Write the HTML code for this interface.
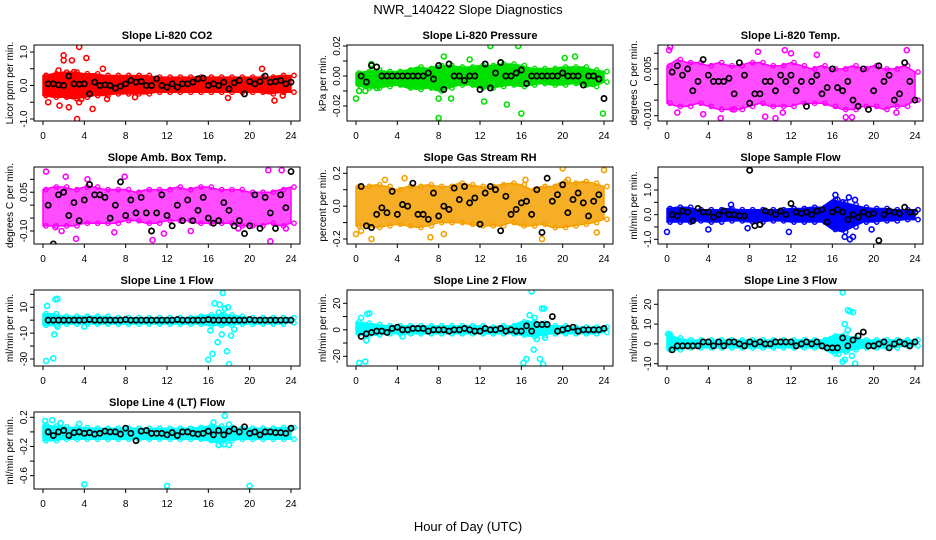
<!DOCTYPE html>
<html><head><meta charset="utf-8"><style>
body{margin:0;background:#fff;}
svg{display:block;font-family:"Liberation Sans",sans-serif;}
</style></head><body>
<svg id="c" width="936" height="540" viewBox="0 0 936 540">
<text x="468" y="14" text-anchor="middle" font-size="13">NWR_140422  Slope Diagnostics</text>
<text x="468" y="531" text-anchor="middle" font-size="13">Hour of Day (UTC)</text>
</svg>
<script>
// ---- data ----
const bandH=[0,1,2,3,4,5,6,7,8,9,10,11,12,13,14,15,16,17,18,19,20,21,22,23,24];
const blackH=[0.5,1,1.5,2,2.5,3,3.5,4,4.5,5,5.5,6,6.5,7,7.5,8,8.5,9,9.5,10,10.5,11,11.5,12,12.5,13,13.5,14,14.5,15,15.5,16,16.5,17,17.5,18,18.5,19,19.5,20,20.5,21,21.5,22,22.5,23,23.5,24];

const co2Lo=[-0.3,-0.35,-0.35,-0.4,-0.35,-0.3,-0.3,-0.25,-0.25,-0.25,-0.25,-0.2,-0.2,-0.2,-0.2,-0.2,-0.2,-0.2,-0.2,-0.2,-0.2,-0.2,-0.25,-0.2,-0.2];
const co2Hi=[0.3,0.35,0.4,0.4,0.35,0.35,0.3,0.3,0.3,0.3,0.3,0.25,0.25,0.25,0.25,0.25,0.25,0.25,0.25,0.25,0.25,0.25,0.25,0.3,0.3];
const co2OutH=[0.5,1.6,2,2,2.5,2.8,3.3,3.5,3.5,3.7,4.2,4.8,5.8,6.2,8.9,17.9,21.2,22.4,23.2,1.5,3];
const co2OutV=[-0.5,-0.6,0.9,0.75,-0.65,0.75,-1.0,1.15,-0.5,-0.4,0.82,-0.7,0.5,-0.4,-0.35,-0.37,0.5,-0.45,-0.3,0.45,0.4];
const co2Black=[0.05,0.05,0.02,0.0,0.28,0.05,0.04,0.05,-0.25,0.1,0.0,0.02,0.0,-0.08,-0.02,0.05,0.15,0.1,0.12,0.0,0.0,0.2,0.0,-0.05,0.05,-0.05,0.05,0.05,0.1,0.2,0.22,0.0,0.05,0.0,0.1,-0.1,0.08,0.15,-0.25,0.12,0.05,0.12,0.28,0.1,0.12,0.15,0.05,0.1];

const presLo=[-0.006,-0.008,-0.008,-0.007,-0.006,-0.008,-0.009,-0.008,-0.01,-0.008,-0.006,-0.006,-0.008,-0.008,-0.007,-0.006,-0.007,-0.006,-0.005,-0.006,-0.006,-0.005,-0.006,-0.007,-0.004];
const presHi=[0.002,0.003,0.004,0.003,0.003,0.004,0.006,0.005,0.007,0.007,0.006,0.006,0.007,0.007,0.008,0.008,0.007,0.005,0.005,0.005,0.006,0.006,0.006,0.004,0.003];
const presOutH=[0,0.3,0.9,1.5,2,8,8,8.5,9.2,13,15.7,16,11,20.2,21.2,23.9,14.6,12.4];
const presOutV=[-0.015,-0.01,-0.01,0.008,-0.008,-0.028,-0.015,0.013,-0.015,0.02,0.02,-0.025,0.011,0.012,0.013,-0.025,-0.019,-0.017];
const presBlack=[0.0,-0.004,0.007,0.006,0.0,0.0,0.0,0.0,0.0,0.0,0.0,0.0,0.0,0.002,-0.002,0.007,-0.009,0.008,0.0,0.0,-0.003,0.0,0.0,-0.009,0.008,-0.008,0.002,0.009,0.0,0.0,0.002,0.004,-0.005,0.0,0.0,0.0,0.0,0.0,0.0,0.002,0.0,0.0,0.0,-0.006,0.0,0.0,-0.002,-0.015];

const ltLo=[-0.006,-0.007,-0.007,-0.006,-0.007,-0.008,-0.008,-0.008,-0.007,-0.006,-0.007,-0.007,-0.007,-0.006,-0.006,-0.006,-0.007,-0.008,-0.008,-0.007,-0.007,-0.008,-0.007,-0.007,-0.005];
const ltHi=[0.006,0.008,0.007,0.007,0.006,0.007,0.006,0.006,0.007,0.007,0.006,0.006,0.007,0.006,0.005,0.006,0.005,0.005,0.006,0.005,0.006,0.005,0.005,0.006,0.004];
const ltOutH=[0.2,0.3,1,3.5,5.2,6.5,9.5,10.5,11.2,12,8.8,14.5,17.3,17.9,22.2,23.2,11.4];
const ltOutV=[0.011,0.012,-0.009,-0.0095,-0.0108,-0.008,-0.0103,-0.0108,-0.009,0.010,0.0105,0.0095,-0.0105,-0.0105,-0.009,0.011,0.011];
const ltBlack=[0.004,0.006,0.003,0.005,-0.002,0.001,0.008,0.003,0.001,0.001,0.001,0.002,-0.003,0.007,0.003,-0.006,-0.003,-0.003,0.001,0.001,-0.002,0.003,0.001,0.003,-0.002,0.001,-0.007,0.001,0.003,-0.003,-0.001,0.005,-0.001,-0.002,0.001,-0.005,-0.007,0.005,-0.008,-0.002,0.006,0.001,0.003,-0.005,-0.003,0.007,0.001,-0.005];

const ambLo=[-0.08,-0.08,-0.08,-0.08,-0.07,-0.07,-0.07,-0.07,-0.06,-0.06,-0.07,-0.07,-0.06,-0.06,-0.06,-0.07,-0.07,-0.07,-0.07,-0.08,-0.08,-0.08,-0.07,-0.08,-0.07];
const ambHi=[0.06,0.07,0.07,0.06,0.07,0.07,0.06,0.06,0.06,0.05,0.06,0.06,0.06,0.07,0.06,0.07,0.07,0.06,0.06,0.06,0.05,0.05,0.05,0.06,0.07];
const ambOutH=[0.3,2.2,3.2,10.6,11.7,22,23.1,21.8,7.9,23.5,1.2,6.9,1.8,4.3,14.3,18.9];
const ambOutV=[0.13,0.11,-0.13,-0.135,-0.11,-0.14,0.135,0.135,0.11,-0.09,-0.085,-0.105,-0.1,0.1,-0.1,-0.09];
const ambBlack=[0.0,-0.15,0.04,0.05,-0.04,0.01,-0.06,0.02,0.08,0.04,0.04,0.03,-0.05,0.0,0.09,-0.04,0.02,-0.03,0.03,-0.03,-0.1,-0.03,0.04,-0.04,-0.08,0.0,-0.06,0.02,-0.06,-0.02,0.03,-0.05,-0.07,-0.06,0.01,-0.02,-0.08,-0.06,-0.11,-0.08,0.04,-0.09,0.03,-0.03,-0.09,0.04,-0.01,0.13];

const rhLo=[-0.12,-0.12,-0.13,-0.12,-0.11,-0.12,-0.13,-0.12,-0.1,-0.1,-0.1,-0.11,-0.12,-0.12,-0.12,-0.1,-0.12,-0.12,-0.11,-0.13,-0.13,-0.12,-0.11,-0.1,-0.08];
const rhHi=[0.12,0.12,0.13,0.12,0.1,0.12,0.12,0.13,0.12,0.12,0.14,0.13,0.12,0.12,0.13,0.14,0.13,0.1,0.12,0.12,0.15,0.14,0.15,0.14,0.12];
const rhOutH=[0,0.5,1.5,2.8,4.7,7.2,8.5,20,20.5,23.3,24,18,16.4];
const rhOutV=[-0.17,-0.15,-0.2,0.16,0.17,-0.19,-0.17,0.23,0.16,-0.16,0.22,-0.2,0.16];
const rhBlack=[0.12,-0.12,-0.13,-0.05,-0.01,-0.04,0.09,-0.05,0.01,0.0,0.14,-0.05,-0.05,-0.08,0.08,-0.06,0.0,-0.02,0.11,0.04,0.12,0.02,0.05,-0.11,0.08,0.12,0.1,-0.15,0.06,-0.05,-0.02,0.02,0.03,-0.05,0.1,-0.16,0.17,0.03,0.07,0.13,-0.04,0.04,0.08,0.02,-0.06,0.03,0.07,-0.02];

const sfLo=[-0.3,-0.3,-0.3,-0.25,-0.3,-0.3,-0.25,-0.25,-0.3,-0.3,-0.25,-0.25,-0.3,-0.3,-0.3,-0.3,-0.6,-0.7,-0.5,-0.3,-0.3,-0.25,-0.25,-0.2,-0.2];
const sfHi=[0.25,0.3,0.3,0.2,0.2,0.2,0.25,0.2,0.2,0.2,0.2,0.2,0.25,0.25,0.3,0.3,0.6,0.5,0.4,0.3,0.25,0.25,0.2,0.2,0.2];
const sfOutH=[0,4,11.8,16.3,17.2,17.7,18,17.6,19.8,7.8,6.2,16.5,17,18.2];
const sfOutV=[-0.7,-0.6,-0.7,0.8,-0.9,-1.0,-0.9,0.7,-0.6,-0.55,0.4,0.6,0.5,0.6];
const sfBlack=[0.0,-0.05,0.15,0.1,-0.25,0.25,0.1,0.1,-0.1,0.0,0.15,0.0,0.0,-0.05,-0.05,1.8,-0.45,-0.4,0.15,0.1,0.0,0.15,0.0,0.45,0.1,0.05,0.1,0.0,0.15,0.2,-0.3,0.1,0.2,0.1,-0.2,0.0,-0.1,0.1,0.0,0.05,-1.05,0.0,0.15,0.1,0.05,0.3,0.1,0.1];

const l1Lo=[-4,-4,-3,-3,-3,-3,-3,-3,-3,-3,-3,-3,-3,-3,-3,-3,-4,-4,-4,-3,-3,-3,-3,-3,-2];
const l1Hi=[5,5,3,3,3,3,3,2,2,2,2,2,2,2,2,3,4,4,4,3,2,2,2,2,2];
const l1OutH=[0.3,1,1.1,0.4,1.2,1.4,1.4,16,16.2,16.4,16.6,16.9,17.0,17.1,17.3,17.4,17.5,17.6,17.8,17.9,18.0,18.2,18.5,4];
const l1OutV=[-31.5,-29.5,-11,11,16,16.5,-5,-30.5,-8,-26,13,-17,6,12,-11,21,4,9,-24,10,-34,-12,-7,-5];
const l1Black=[0,0,0,0,0,0,0,0,0.5,0,0,0,0,0,0,0.5,0,0,0,0,0,0,0,0,0,0.5,0,0,0,0,0,0.5,0,0,0,0,0,0,0,0.5,0,0,0,0,0,0,0,0];

const l2Lo=[-3,-4,-4,-3,-3,-3,-3,-3,-3,-3,-3,-3,-3,-3,-3,-3,-4,-5,-4,-3,-3,-3,-3,-3,-2];
const l2Hi=[6,5,4,3,3,3,3,3,3,3,3,3,3,2,3,3,6,6,5,3,3,2,2,2,2];
const l2OutH=[0.3,0.9,0.5,1.1,1.3,1,4.5,16.2,16.5,16.6,16.8,17,17.2,17.3,17.5,18,18.2,17.8,18.1,18.3,16.9];
const l2OutV=[-25,-24,9,12,12.5,-8,-5,-25,-22,5,11,29,-15,9,-7,16,16,-22,-26,-6,3];
const l2Black=[-5,-3,-2,-1,-1,-2,1,2,0,0,1,1,1,-1,0,0,0,-1,0,0,1,0,-1,-1,1,0,0,1,-1,0,-1,-1,3,-1,4,4,4,10,-1,0,1,2,-1,0,0,0,0,1];

const l3Lo=[-3,-3,-2,-2,-2,-2,-2,-2,-2,-2,-2,-2,-2,-2,-2,-2,-5,-4,-3,-2,-2,-2,-2,-1,-1];
const l3Hi=[5,3,2,2,2,2,2,2,2,2,2,2,2,2,2,2,4,5,3,2,2,2,2,2,2];
const l3OutH=[16.6,17,17.2,17,17.2,17.5,17.7,18,17.9,18.2,17.5,16.9,17.4,0.1,0.3];
const l3OutV=[-5,26,10,-9,-8,17,16.5,16,-6,-10,7,-3,-3.5,5,4];
const l3Black=[-3,-1,-1,-1,-1,-1,1,1,-1,1,-1,1,1,0,-1,1,0,1,0,0,1,1,1,1,-1,0,1,0,1,-1,-2,-2,-2,3,-1,2,4,6,-1,-1,0,1,-2,0,1,0,-1,1];

const l4Lo=[-0.12,-0.12,-0.1,-0.1,-0.1,-0.1,-0.1,-0.1,-0.1,-0.1,-0.1,-0.1,-0.1,-0.1,-0.1,-0.1,-0.12,-0.15,-0.12,-0.1,-0.1,-0.1,-0.1,-0.1,-0.1];
const l4Hi=[0.1,0.08,0.07,0.06,0.06,0.05,0.05,0.05,0.05,0.05,0.05,0.05,0.05,0.05,0.05,0.06,0.08,0.08,0.06,0.05,0.05,0.05,0.05,0.06,0.06];
const l4OutH=[4,12,20,0.2,0.9,17.6,17,17.5,18,16.5,18,1.7,3.5];
const l4OutV=[-0.72,-0.74,-0.74,0.15,0.16,0.22,-0.18,-0.17,-0.18,0.13,0.1,0.12,0.11];
const l4Black=[0.0,-0.05,0.0,0.02,-0.05,-0.01,0.0,-0.02,-0.01,-0.03,-0.02,0.01,0.0,0.0,-0.03,0.05,-0.02,-0.12,0.01,0.02,-0.02,-0.02,-0.02,-0.04,-0.01,-0.05,0.0,0.0,-0.02,-0.03,-0.02,0.01,-0.04,0.02,-0.04,0.01,0.04,0.0,0.07,-0.02,0.0,-0.04,0.0,0.0,-0.01,-0.01,-0.02,0.05];

const xTicks=[0,4,8,12,16,20,24];

// ---- layout (not data) ----
const cols=[[34,300],[347,613],[658,923]];
const rows=[[45,121],[167,244],[290,366],[412,489]];
const panels=[
 {name:'co2',title:'Slope Li-820 CO2',ylab:'Licor ppm per min.',c:0,r:0,col:'#ff0000',op:1,lo:co2Lo,hi:co2Hi,oh:co2OutH,ov:co2OutV,bk:co2Black,v1:1,p1:52,v2:-1,p2:119,ticks:[-1,-0.5,0,0.5,1],labs:{'-1':'-1.0','0':'0.0','1':'1.0'}},
 {name:'pressure',title:'Slope Li-820 Pressure',ylab:'kPa per min.',c:1,r:0,col:'#00e000',op:1,lo:presLo,hi:presHi,oh:presOutH,ov:presOutV,bk:presBlack,v1:0.02,p1:46,v2:-0.02,p2:106,ticks:[-0.02,-0.01,0,0.01,0.02],labs:{'-0.02':'-0.02','0':'0.00','0.02':'0.02'}},
 {name:'li-temp',title:'Slope Li-820 Temp.',ylab:'degrees C per min.',c:2,r:0,col:'#ff00ff',op:0.7,lo:ltLo,hi:ltHi,oh:ltOutH,ov:ltOutV,bk:ltBlack,v1:0.01,p1:53.3,v2:-0.01,p2:115.7,ticks:[-0.01,-0.005,0,0.005,0.01],labs:{'-0.01':'-0.010','0.005':'0.005'}},
 {name:'amb-box-temp',title:'Slope Amb. Box Temp.',ylab:'degrees C per min.',c:0,r:1,col:'#ff00ff',op:0.7,lo:ambLo,hi:ambHi,oh:ambOutH,ov:ambOutV,bk:ambBlack,v1:0.1,p1:179.3,v2:-0.1,p2:231,ticks:[-0.1,-0.05,0,0.05,0.1],labs:{'-0.1':'-0.10','0.05':'0.05'}},
 {name:'gas-stream-rh',title:'Slope Gas Stream RH',ylab:'percent per min.',c:1,r:1,col:'#f5a000',op:0.85,lo:rhLo,hi:rhHi,oh:rhOutH,ov:rhOutV,bk:rhBlack,v1:0.2,p1:173.3,v2:-0.2,p2:239,ticks:[-0.2,-0.1,0,0.1,0.2],labs:{'-0.2':'-0.2','0':'0.0','0.2':'0.2'}},
 {name:'sample-flow',title:'Slope Sample Flow',ylab:'ml/min per min.',c:2,r:1,col:'#0000ff',op:1,lo:sfLo,hi:sfHi,oh:sfOutH,ov:sfOutV,bk:sfBlack,v1:1,p1:190,v2:-1,p2:239.3,ticks:[-1,-0.5,0,0.5,1,1.5],labs:{'-1':'-1.0','0':'0.0','1':'1.0'}},
 {name:'line1-flow',title:'Slope Line 1 Flow',ylab:'ml/min per min.',c:0,r:2,col:'#00ffff',op:1,lo:l1Lo,hi:l1Hi,oh:l1OutH,ov:l1OutV,bk:l1Black,v1:20,p1:294.3,v2:-30,p2:359,ticks:[-30,-20,-10,0,10,20],labs:{'-30':'-30','-10':'-10','10':'10'}},
 {name:'line2-flow',title:'Slope Line 2 Flow',ylab:'ml/min per min.',c:1,r:2,col:'#00ffff',op:1,lo:l2Lo,hi:l2Hi,oh:l2OutH,ov:l2OutV,bk:l2Black,v1:20,p1:303.3,v2:-20,p2:356.3,ticks:[-20,-10,0,10,20],labs:{'-20':'-20','0':'0','20':'20'}},
 {name:'line3-flow',title:'Slope Line 3 Flow',ylab:'ml/min per min.',c:2,r:2,col:'#00ffff',op:1,lo:l3Lo,hi:l3Hi,oh:l3OutH,ov:l3OutV,bk:l3Black,v1:20,p1:304.3,v2:-10,p2:363.7,ticks:[-10,0,10,20],labs:{'-10':'-10','0':'0','10':'10','20':'20'}},
 {name:'line4-lt-flow',title:'Slope Line 4 (LT) Flow',ylab:'ml/min per min.',c:0,r:3,col:'#00ffff',op:1,lo:l4Lo,hi:l4Hi,oh:l4OutH,ov:l4OutV,bk:l4Black,v1:0.2,p1:417.3,v2:-0.6,p2:475.7,ticks:[-0.6,-0.4,-0.2,0,0.2],labs:{'-0.6':'-0.6','-0.2':'-0.2','0.2':'0.2'}}
];

const svg=document.getElementById('c');
const NS='http://www.w3.org/2000/svg';
function mk(tag,attrs,parent){const e=document.createElementNS(NS,tag);for(const k in attrs)e.setAttribute(k,attrs[k]);(parent||svg).appendChild(e);return e;}

panels.forEach(p=>{
 const [x0,x1]=cols[p.c],[y0,y1]=rows[p.r];
 const xs=h=>43+(x0-34)+h*(248/24);
 const k=(p.p2-p.p1)/(p.v2-p.v1);
 const ys=v=>p.p1+(v-p.v1)*k;
 const g=mk('g',{});
 
 
 const t=mk('text',{x:(x0+x1)/2,y:y0-6,'text-anchor':'middle','font-size':'11','font-weight':'bold'},g);
 t.textContent=p.title;
 
 
 const yl=mk('text',{x:0,y:0,'text-anchor':'middle','font-size':'10',transform:`translate(${x0-21},${(y0+y1)/2}) rotate(-90)`},g);
 yl.textContent=p.ylab;
 
 
 const cid='clip'+p.name;
 const cp=mk('clipPath',{id:cid},g);mk('rect',{x:x0,y:y0,width:x1-x0,height:y1-y0},cp);
 const pg=mk('g',{'clip-path':`url(#${cid})`},g);
 let pts=bandH.map((h,i)=>xs(h)+','+ys(p.hi[i]));
 pts=pts.concat(bandH.map((h,i)=>xs(h)+','+ys(p.lo[i])).reverse());
 const band=mk('polygon',{points:pts.join(' '),fill:p.col,'fill-opacity':p.op,stroke:p.col,'stroke-width':'1.5','stroke-linejoin':'round'},pg);
 
 
 bandH.forEach((h,i)=>{
  [p.lo[i],p.hi[i]].forEach(v=>{
   const c=mk('circle',{cx:xs(h)+3,cy:ys(v),r:2.2,fill:'none',stroke:p.col,'stroke-width':'1.4'},pg);
   
   
  });
 });
 p.oh.forEach((h,i)=>{
  const c=mk('circle',{cx:xs(h),cy:ys(p.ov[i]),r:2.5,fill:'none',stroke:p.col,'stroke-width':'1.6'},pg);
  
  
 });
 blackH.forEach((h,i)=>{
  const c=mk('circle',{cx:xs(h),cy:ys(p.bk[i]),r:2.6,fill:'none',stroke:'#000','stroke-width':'1.7'},pg);
  
  
 });
 const box=mk('rect',{x:x0,y:y0,width:x1-x0,height:y1-y0,fill:'none',stroke:'#000','stroke-width':'1'},g);
 
 
 xTicks.forEach(h=>{
  mk('line',{x1:xs(h),x2:xs(h),y1:y1,y2:y1+4,stroke:'#000'},g);
  const tl=mk('text',{x:xs(h),y:y1+18,'text-anchor':'middle','font-size':'10'},g);
  tl.textContent=h;
  
  
 });
 p.ticks.forEach(v=>{
  const yy=ys(v);
  mk('line',{x1:x0-4,x2:x0,y1:yy,y2:yy,stroke:'#000'},g);
  const lab=p.labs[String(v)];
  if(lab){
   const tl=mk('text',{x:0,y:0,'text-anchor':'middle','font-size':'10',transform:`translate(${x0-7},${yy}) rotate(-90)`},g);
   tl.textContent=lab;
   
   
  }
 });
});
</script>
</body></html>
